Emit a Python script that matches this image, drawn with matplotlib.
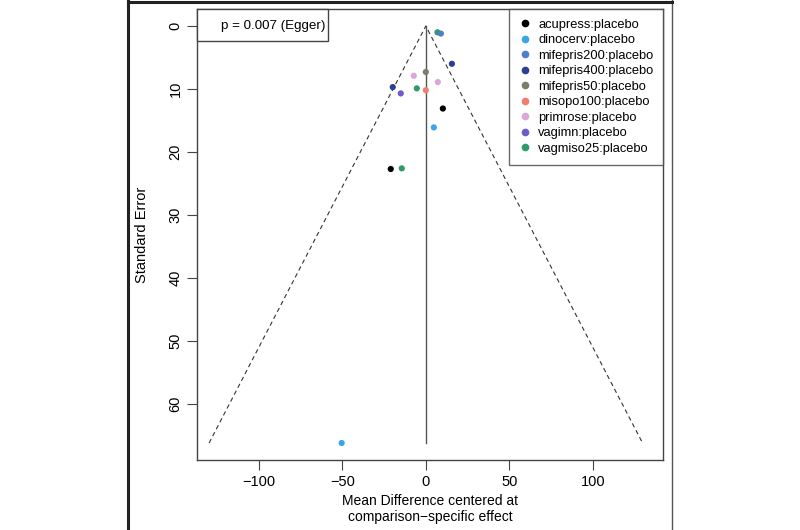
import numpy as np
import matplotlib.pyplot as plt
from matplotlib.lines import Line2D
from matplotlib.patches import Rectangle

plt.rcParams['font.family'] = ['Liberation Sans', 'DejaVu Sans']

comparisons = ['acupress:placebo', 'dinocerv:placebo', 'mifepris200:placebo',
               'mifepris400:placebo', 'mifepris50:placebo', 'misopo100:placebo',
               'primrose:placebo', 'vagimn:placebo', 'vagmiso25:placebo']
colors = ['#000000', '#3aa6e6', '#4f7fcc', '#2b3f93', '#7d7d6c',
          '#f07f72', '#dba6dc', '#6a5ccd', '#2f9a6a']

# points: (comparison index, centered mean difference, standard error)
pt_group = [8, 2, 3, 4, 6, 6, 3, 7, 8, 5, 0, 1, 0, 8, 1]
pt_md = [7.0, 9.0, 15.6, 0.0, -7.2, 7.2, -19.8, -15.0, -5.4, 0.0, 10.2, 4.8, -21.0, -14.4, -50.4]
pt_se = [1.0, 1.2, 6.0, 7.3, 7.9, 8.9, 9.7, 10.7, 9.9, 10.2, 13.1, 16.1, 22.7, 22.6, 66.2]

max_se = max(pt_se)

W, H = 800, 530
fig = plt.figure(figsize=(8, 5.3), dpi=100)
ax = fig.add_axes([197 / W, 1 - 460 / H, 466 / W, 451 / H])

# funnel
ax.plot([-1.96 * max_se, 0, 1.96 * max_se], [max_se, 0, max_se],
        ls=(0, (4, 3)), color='#333333', lw=0.8)
ax.plot([0, 0], [0, max_se], color='#555555', lw=1.0)

for g, x, y in zip(pt_group, pt_md, pt_se):
    ax.scatter(x, y, s=20, color=colors[g], zorder=3, edgecolors='none')

ax.set_xlim(-137, 142)
ax.set_ylim(68.9, -2.7)
ax.set_xticks([-100, -50, 0, 50, 100])
ax.set_yticks(np.arange(0, 61, 10))
ax.tick_params(direction='out', length=7, labelsize=10.5, color='#444444')
for lab in ax.get_yticklabels():
    lab.set_rotation(90)
    lab.set_va('center')
for sp in ax.spines.values():
    sp.set_color('#444444')
    sp.set_linewidth(1.0)

ax.set_xlabel('Mean Difference centered at\ncomparison\u2212specific effect', fontsize=10, labelpad=4)
ax.set_ylabel('Standard Error', fontsize=10.5, labelpad=14)

handles = [Line2D([], [], marker='o', ls='none', color=c, markersize=4.5) for c in colors]
leg = ax.legend(handles, comparisons, loc='upper right', fontsize=9.3, frameon=True,
                fancybox=False, edgecolor='#444444',
                labelspacing=0.27, handletextpad=0.5, handlelength=1.0,
                borderpad=0.75, borderaxespad=0)
leg.get_frame().set_linewidth(1.0)

# Egger test box in the top-left corner
fig.add_artist(Rectangle((197 / W, 1 - 41 / H), 131 / W, 32 / H, fc='white',
                         ec='#444444', lw=1.0, transform=fig.transFigure))
fig.text(273 / W, 1 - 26 / H, 'p = 0.007 (Egger)', fontsize=9.6, ha='center', va='center')

# outer frame of the image
fig.add_artist(Line2D([128 / W, 128 / W], [0, 1], color='#222222', lw=2.2))
fig.add_artist(Line2D([672 / W, 672 / W], [0, 1], color='#555555', lw=1.0))
fig.add_artist(Line2D([128 / W, 672 / W], [0.997, 0.997], color='#222222', lw=2.2))

fig.savefig('out.png', dpi=100)
